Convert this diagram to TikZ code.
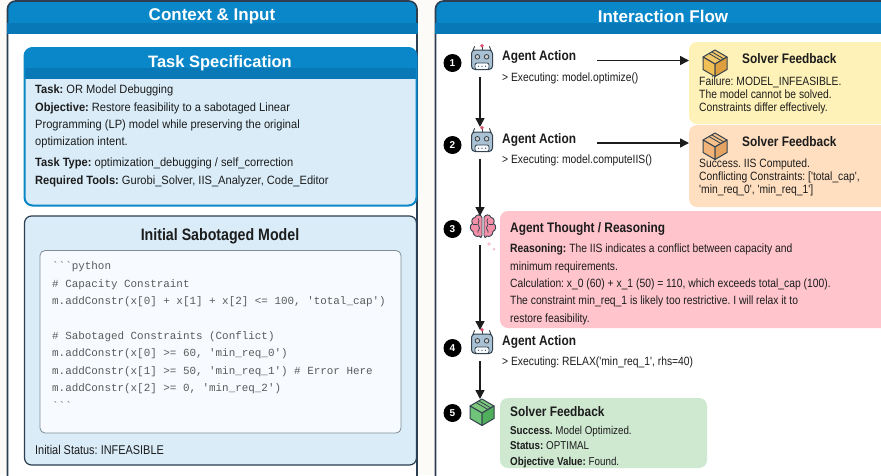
\documentclass[tikz,border=0pt]{standalone}
\usepackage{fontspec}
\setmainfont{Liberation Sans}
\setmonofont{Liberation Mono}
\newfontfamily\narrowsans[FakeStretch=0.925]{Liberation Sans}
\newfontfamily\tightsans[FakeStretch=0.86]{Liberation Sans}
\usetikzlibrary{arrows.meta}
\definecolor{pagebg}{HTML}{FCFBF7}
\definecolor{frame}{HTML}{2C3E50}
\definecolor{headA}{HTML}{0A87C8}
\definecolor{headB}{HTML}{0878B6}
\definecolor{skyfill}{HTML}{D9ECF8}
\definecolor{codefill}{HTML}{F7FBFF}
\definecolor{codeedge}{HTML}{7F8C95}
\definecolor{codetext}{HTML}{5A5A5A}
\definecolor{inkdark}{HTML}{1C1C1C}
\definecolor{yellowfill}{HTML}{FFF2B8}
\definecolor{orangefill}{HTML}{FFDFC0}
\definecolor{pinkfill}{HTML}{FFC4CC}
\definecolor{greenfill}{HTML}{CFE9D1}
\definecolor{iconline}{HTML}{33424E}
\definecolor{roboface}{HTML}{A9C1D3}
\definecolor{robodot}{HTML}{D9506A}
\tikzset{
  x=1pt,y=-1pt,
  headtitle/.style={text=white,font=\fontsize{17}{18}\selectfont\bfseries,inner sep=0pt},
  bodytext/.style={anchor=base west,inner sep=0pt,align=left,text=inkdark,font=\narrowsans\fontsize{12}{17.3}\selectfont},
  pinktext/.style={anchor=base west,inner sep=0pt,align=left,text=inkdark,font=\tightsans\fontsize{12}{17.3}\selectfont},
  smalltext/.style={anchor=base west,inner sep=0pt,align=left,text=inkdark,font=\tightsans\fontsize{12}{13}\selectfont},
  cardtitle/.style={anchor=base west,inner sep=0pt,text=inkdark,font=\tightsans\fontsize{13.8}{15}\selectfont\bfseries},
  codetextstyle/.style={anchor=base west,inner sep=0pt,align=left,text=codetext,font=\ttfamily\fontsize{10.9}{17.4}\selectfont},
  badge/.style={circle,fill=black,text=white,minimum size=18pt,inner sep=0pt,font=\fontsize{10}{10}\selectfont\bfseries},
  iconbox/.style={minimum width=34pt,minimum height=26pt,inner sep=0pt,outer sep=0pt},
  flow/.style={draw=inkdark,line width=1.5pt,-{Triangle[length=9pt,width=9pt]}},
  card/.style={rounded corners=8pt,inner sep=0pt,outer sep=0pt},
  robot/.pic={
    \draw[iconline,line width=.9pt,line cap=round] (-9,-6.5) -- (-7.5,-10.5) (9,-6.5) -- (7.5,-10.5);
    \draw[iconline,line width=.9pt] (0,-11) -- (0,-7);
    \fill[robodot] (0,-11.3) circle (1.8);
    \draw[iconline,line width=1pt,fill=roboface,rounded corners=3.5pt] (-10.5,-7) rectangle (10.5,12.5);
    \draw[iconline,line width=.8pt,fill=gray!40] (-4.6,-.2) circle (2.3) (4.6,-.2) circle (2.3);
    \draw[iconline,line width=.8pt,fill=codefill,rounded corners=2pt] (-7,6) rectangle (7,12.5);
    \fill[iconline] (-3.5,9.2) circle (.6) (0,9.2) circle (.6) (3.5,9.2) circle (.6);
  },
  cube/.pic={
    \draw[iconline,line width=1pt,line join=round,fill=cubeTop] (0,-13) -- (12,-6) -- (0,1) -- (-12,-6) -- cycle;
    \draw[iconline,line width=1pt,line join=round,fill=cubeLeft] (-12,-6) -- (0,1) -- (0,13.5) -- (-12,6.5) -- cycle;
    \draw[iconline,line width=1pt,line join=round,fill=cubeRight] (12,-6) -- (0,1) -- (0,13.5) -- (12,6.5) -- cycle;
    \draw[iconline,line width=.8pt] (-6,-9.5) -- (6,-2.5) (-3,-11) -- (9,-4);
  }
}
\begin{document}
\frenchspacing
\begin{tikzpicture}
\clip (0,0) rectangle (881,475);
\fill[pagebg] (0,0) rectangle (881,475);

% ---------- left panel
\path[fill=white,rounded corners=8pt] (7.5,1) rectangle (417,500);
\begin{scope}
  \clip[rounded corners=8pt] (7.5,1) rectangle (417,500);
  \fill[headA] (7,0) rectangle (418,23);
\end{scope}
\draw[frame,line width=1.6pt,rounded corners=8pt] (7.5,1) rectangle (417,500);
\fill[headB] (7,23) rectangle (417.5,34);
\node[headtitle] (leftTitle) at (212,16) {Context \& Input};

% task specification
\path[fill=skyfill,rounded corners=8pt] (24.5,48) rectangle (416.5,205.5);
\begin{scope}
  \clip[rounded corners=8pt] (24.5,48) rectangle (416.5,205.5);
  \fill[headA] (24,47) rectangle (417,68);
  \fill[headB] (24,68) rectangle (417,79);
\end{scope}
\draw[headA,line width=2pt,rounded corners=8pt] (24.5,48) rectangle (416.5,205.5);
\node[headtitle,font=\fontsize{16.5}{18}\selectfont\bfseries] (taskTitle) at (220,63) {Task Specification};
\node[bodytext] (taskBody) at (35,184) {\textbf{Task:} OR Model Debugging\\
\textbf{Objective:} Restore feasibility to a sabotaged Linear\\
Programming (LP) model while preserving the original\\
optimization intent.\\[3.7pt]
\textbf{Task Type:} optimization\_debugging / self\_correction\\
\textbf{Required Tools:} Gurobi\_Solver, IIS\_Analyzer, Code\_Editor};

% initial sabotaged model
\draw[frame,line width=1.2pt,fill=skyfill,rounded corners=7pt] (24.5,216) rectangle (416.5,465);
\node[inner sep=0pt,text=inkdark,font=\tightsans\fontsize{16.5}{18}\selectfont\bfseries] (modelTitle) at (220,236) {Initial Sabotaged Model};
\draw[codeedge,line width=.8pt,fill=codefill,rounded corners=5pt] (40,250.5) rectangle (401,433);
\node[codetextstyle] (codeBody) at (52,409) {\symbol{96}\symbol{96}\symbol{96}python\\
\# Capacity Constraint\\
m.addConstr(x[0] + x[1] + x[2] <= 100, 'total\_cap')\\
\mbox{}\\
\# Sabotaged Constraints (Conflict)\\
m.addConstr(x[0] >= 60, 'min\_req\_0')\\
m.addConstr(x[1] >= 50, 'min\_req\_1') \# Error Here\\
m.addConstr(x[2] >= 0, 'min\_req\_2')\\
\symbol{96}\symbol{96}\symbol{96}};
\node[bodytext,font=\tightsans\fontsize{12.7}{14}\selectfont] (statusLine) at (35,454.5) {Initial Status: INFEASIBLE};

% ---------- right panel
\path[fill=white,rounded corners=8pt] (435.5,1) rectangle (900,500);
\begin{scope}
  \clip[rounded corners=8pt] (435.5,1) rectangle (900,500);
  \fill[headA] (435,0) rectangle (900,23);
\end{scope}
\draw[frame,line width=1.6pt,rounded corners=8pt] (435.5,1) rectangle (900,500);
\fill[headB] (435,23) rectangle (881,34);
\node[headtitle] (rightTitle) at (663,16) {Interaction Flow};

% cards (they run past the right edge of the picture)
\node[card,fill=yellowfill,minimum width=211pt,minimum height=82pt] (c1) at (794.5,83) {};
\node[card,fill=orangefill,minimum width=211pt,minimum height=82pt] (c2) at (794.5,166) {};
\node[card,fill=pinkfill,minimum width=400pt,minimum height=117pt] (c3) at (700,269.5) {};
\node[card,fill=greenfill,minimum width=207pt,minimum height=70pt] (c5) at (603.5,433) {};

% text of steps
\node[cardtitle] (a1) at (502,60) {Agent Action};
\node[smalltext] (a1t) at (502,81) {> Executing: model.optimize()};
\node[cardtitle] (a2) at (502,143) {Agent Action};
\node[smalltext] (a2t) at (502,163) {> Executing: model.computeIIS()};
\node[cardtitle] (a4) at (502,345) {Agent Action};
\node[smalltext] (a4t) at (502,365) {> Executing: RELAX('min\_req\_1', rhs=40)};

\node[cardtitle] (f1) at (742,63) {Solver Feedback};
\node[smalltext] (f1t) at (699,111) {Failure: MODEL\_INFEASIBLE.\\The model cannot be solved.\\Constraints differ effectively.};
\node[cardtitle] (f2) at (742,146) {Solver Feedback};
\node[smalltext] (f2t) at (699,193) {Success. IIS Computed.\\Conflicting Constraints: ['total\_cap',\\'min\_req\_0', 'min\_req\_1']};

\node[cardtitle] (th) at (510,232) {Agent Thought / Reasoning};
\node[pinktext] (thb) at (510,322) {\textbf{Reasoning:} The IIS indicates a conflict between capacity and\\
minimum requirements.\\
Calculation: x\_0 (60) + x\_1 (50) = 110, which exceeds total\_cap (100).\\
The constraint min\_req\_1 is likely too restrictive. I will relax it to\\
restore feasibility.};

\node[cardtitle] (f5) at (510,416) {Solver Feedback};
\node[smalltext,font=\tightsans\fontsize{11.4}{15.5}\selectfont] (f5t) at (510,465) {\textbf{Success.} Model Optimized.\\\textbf{Status:} OPTIMAL\\\textbf{Objective Value:} Found.};

% badges
\node[badge] (b1) at (452.5,63) {1};
\node[badge] (b2) at (452.5,145) {2};
\node[badge] (b3) at (452.5,229) {3};
\node[badge] (b4) at (452.5,348) {4};
\node[badge] (b5) at (452.5,413) {5};

% icon anchors
\node[iconbox] (r1) at (480,57) {};
\node[iconbox] (r2) at (480,139) {};
\node[iconbox] (br) at (480,227) {};
\node[iconbox] (r4) at (480,341) {};
\node[iconbox] (cu) at (480,412) {};

\pic at (482,57) {robot};

% green cube sits under the arrow
\definecolor{cubeTop}{HTML}{7CC77C}
\definecolor{cubeLeft}{HTML}{70C47A}
\definecolor{cubeRight}{HTML}{50AE5C}
\pic at (482,412) {cube};

% brain
\begin{scope}[shift={(483,226.5)}]
  \definecolor{brainpink}{HTML}{F48FA8}
  \draw[iconline,line width=.9pt,fill=brainpink,line join=round]
    (-1,-9) .. controls (-2,-12.5) and (-7,-12.5) .. (-8,-9)
    .. controls (-11,-9) and (-12,-5) .. (-10.5,-3)
    .. controls (-14,-1) and (-13,4) .. (-10,5)
    .. controls (-10,9) and (-6,11) .. (-4,9.5)
    .. controls (-3,12) and (-1,11.5) .. (-1,9) -- cycle;
  \draw[iconline,line width=.9pt,fill=brainpink,line join=round]
    (1,-9) .. controls (2,-12.5) and (7,-12.5) .. (8,-9)
    .. controls (11,-9) and (12,-5) .. (10.5,-3)
    .. controls (14,-1) and (13,4) .. (10,5)
    .. controls (10,9) and (6,11) .. (4,9.5)
    .. controls (3,12) and (1,11.5) .. (1,9) -- cycle;
  \draw[iconline,line width=.7pt] (-5,-8) .. controls (-2,-5) and (-7,-3) .. (-4,0) .. controls (-2,2) and (-6,4) .. (-5,6)
     (5,-8) .. controls (2,-5) and (7,-3) .. (4,0) .. controls (2,2) and (6,4) .. (5,6)
     (-10,-2) -- (-6,-2) (10,-2) -- (6,-2);
  \fill[brainpink!55!white] (6,17.5) circle (1.9) (11,22.5) circle (1.5);
\end{scope}

% connectors
\draw[flow,shorten <=7pt,shorten >=-1pt] (r1.south) -- (r2.north);
\draw[flow,shorten <=7pt,shorten >=-2pt] (r2.south) -- (br.north);
\draw[flow,shorten <=5pt,shorten >=-2pt] (br.south) -- (r4.north);
\draw[flow,shorten <=7pt,shorten >=0pt] (r4.south) -- (cu.north);
\coordinate (h1) at (597,60.5);
\coordinate (h2) at (597,143);
\draw[flow] (h1) -- (c1.west |- h1);
\draw[flow] (h2) -- (c2.west |- h2);

% robots over the arrow tips
\pic at (482,139) {robot};
\pic at (482,341) {robot};

% box icons
\definecolor{cubeTop}{HTML}{F2C869}
\definecolor{cubeLeft}{HTML}{F0BF55}
\definecolor{cubeRight}{HTML}{DEA03E}
\pic at (715,63) {cube};
\definecolor{cubeTop}{HTML}{F5C08A}
\definecolor{cubeLeft}{HTML}{F3B47A}
\definecolor{cubeRight}{HTML}{E6A463}
\pic at (715,146) {cube};
\end{tikzpicture}
\end{document}
